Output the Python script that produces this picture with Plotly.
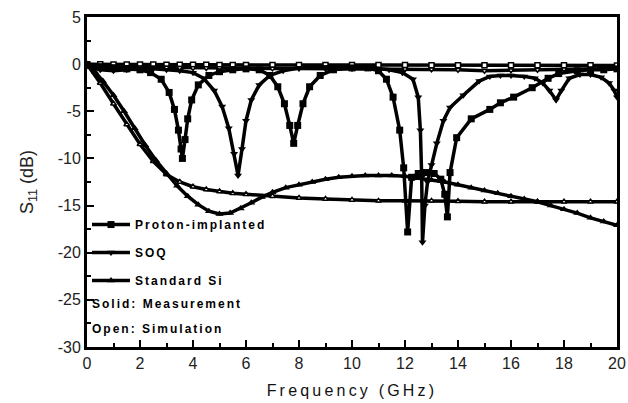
import plotly.graph_objects as go

# ---- data ----
pi_f = [0.0, 0.5, 1.0, 1.5, 2.0, 2.4, 2.8, 3.1, 3.3, 3.45, 3.55, 3.6, 3.7, 3.8, 3.95, 4.2, 4.6, 5.0, 5.5,
        6.0, 6.5, 6.9, 7.2, 7.45, 7.65, 7.8, 7.95, 8.15, 8.4, 8.8, 9.3, 10.0, 10.6, 11.0, 11.3, 11.55,
        11.8, 11.95, 12.1, 12.25, 12.5, 12.8, 13.1, 13.35, 13.5, 13.6, 13.7, 13.95, 14.5, 15.2, 15.6,
        16.1, 16.8, 17.4, 17.8, 18.5, 19.0, 19.5, 20.0]
pi_meas = [-0.1, -0.3, -0.4, -0.5, -0.6, -0.9, -1.6, -3.0, -4.8, -7.0, -9.0, -10.0, -8.0, -5.8, -3.8, -2.2,
           -1.2, -0.8, -0.6, -0.5, -0.6, -1.2, -2.4, -4.2, -6.5, -8.4, -6.5, -4.2, -2.4, -1.2, -0.6, -0.4,
           -0.4, -0.7, -1.6, -3.5, -7.0, -11.0, -17.8, -12.0, -11.6, -11.5, -11.6, -12.2, -13.8, -16.2,
           -11.5, -7.8, -5.8, -4.8, -4.1, -3.5, -2.5, -1.5, -1.0, -0.7, -0.6, -0.6, -0.5]

soq_f = [0.0, 0.5, 1.0, 1.5, 2.0, 2.5, 3.0, 3.5, 4.0, 4.4, 4.8, 5.1, 5.35, 5.55, 5.7, 5.85, 6.0, 6.2, 6.5,
         6.9, 7.4, 8.0, 9.0, 10.0, 10.8, 11.4, 11.9, 12.3, 12.5, 12.58, 12.63, 12.66, 12.75, 12.85, 13.0,
         13.2, 13.45, 13.7, 14.2, 14.8, 15.2, 15.6, 16.0, 16.5, 16.9, 17.2, 17.45, 17.7, 17.9, 18.2, 18.6,
         19.0, 19.4, 19.7, 19.9, 20.0]
soq_meas = [-0.2, -0.6, -0.7, -0.6, -0.5, -0.5, -0.6, -0.7, -0.9, -1.5, -2.8, -4.5, -6.8, -9.5, -11.8, -9.0,
            -6.0, -3.8, -2.2, -1.2, -0.7, -0.4, -0.3, -0.3, -0.4, -0.6, -0.9, -1.6, -3.5, -7.0, -12.0,
            -18.9, -15.0, -12.5, -10.7, -8.4, -6.0, -4.6, -3.3, -1.8, -1.3, -1.2, -1.2, -1.3, -1.5, -2.0,
            -2.8, -3.8, -2.8, -1.5, -1.1, -1.1, -1.4, -2.0, -2.8, -3.5]

sim_f = [0.0, 0.5, 1.0, 1.5, 2.0, 2.5, 3.0, 3.5, 4.0, 4.5, 5.0, 5.5, 6.0, 7.0, 8.0, 9.0, 10.0, 11.0, 12.0,
         13.0, 14.0, 15.0, 16.0, 17.0, 18.0, 19.0, 20.0]
pi_sim = [0.0, -0.02, -0.03, -0.04, -0.05, -0.05, -0.06, -0.06, -0.07, -0.07, -0.08, -0.08, -0.08, -0.09,
          -0.09, -0.1, -0.1, -0.1, -0.1, -0.11, -0.11, -0.12, -0.12, -0.12, -0.13, -0.13, -0.14]
soq_sim = [0.0, -0.15, -0.25, -0.3, -0.32, -0.35, -0.36, -0.38, -0.4, -0.4, -0.42, -0.42, -0.43, -0.45,
           -0.45, -0.46, -0.47, -0.5, -0.52, -0.55, -0.6, -0.7, -0.65, -0.6, -0.55, -0.5, -0.45]
si_sim = [0.0, -2.0, -4.2, -6.4, -8.5, -10.3, -11.7, -12.5, -13.0, -13.3, -13.5, -13.7, -13.8, -14.0,
          -14.2, -14.3, -14.4, -14.5, -14.5, -14.5, -14.55, -14.6, -14.6, -14.6, -14.6, -14.6, -14.6]

si_f = [0.0, 0.3, 0.6, 1.0, 1.4, 1.8, 2.2, 2.6, 3.0, 3.4, 3.8, 4.2, 4.6, 5.0, 5.4, 5.8, 6.2, 6.6, 7.0, 7.5,
        8.0, 8.5, 9.0, 9.5, 10.0, 10.5, 11.0, 11.5, 12.0, 12.5, 13.0, 13.5, 14.0, 14.5, 15.0, 15.5, 16.0,
        16.5, 17.0, 17.5, 18.0, 18.5, 19.0, 19.5, 20.0]
si_meas = [0.0, -0.8, -1.8, -3.3, -5.0, -6.8, -8.6, -10.2, -11.6, -12.9, -14.0, -14.9, -15.6, -15.9, -15.8,
           -15.3, -14.7, -14.1, -13.6, -13.1, -12.8, -12.5, -12.2, -12.0, -11.9, -11.8, -11.8, -11.8, -11.9,
           -12.1, -12.3, -12.5, -12.8, -13.1, -13.4, -13.7, -14.0, -14.3, -14.6, -15.0, -15.4, -15.8, -16.3,
           -16.7, -17.1]

x_ticks = [0, 2, 4, 6, 8, 10, 12, 14, 16, 18, 20]
y_ticks = [5, 0, -5, -10, -15, -20, -25, -30]

names = ["Proton-implanted", "SOQ", "Standard Si"]
notes = ["Solid: Measurement", "Open: Simulation"]


def spaced(t, px):
    return '<span style="letter-spacing:%spx">%s</span>' % (px, t)


fig = go.Figure()

# simulations (open markers)
for y, sym in [(pi_sim, "square"), (soq_sim, "triangle-down"), (si_sim, "triangle-up")]:
    fig.add_trace(go.Scatter(x=sim_f, y=y, mode="lines+markers", showlegend=False,
                             line=dict(color="black", width=3.5),
                             marker=dict(symbol=sym, size=5, color="white",
                                         line=dict(color="black", width=1.5))))

# measurements (solid markers)
for f, y, sym, nm in [(pi_f, pi_meas, "square", names[0]), (soq_f, soq_meas, "triangle-down", names[1]),
                      (si_f, si_meas, "triangle-up", names[2])]:
    fig.add_trace(go.Scatter(x=f, y=y, mode="lines+markers", name="<b>" + spaced(nm, 2.0) + "</b>",
                             legendgroup=nm,
                             line=dict(color="black", width=3.5),
                             marker=dict(symbol=sym, size=7, color="black")))

for i, t in enumerate(notes):
    fig.add_annotation(xref="paper", yref="paper", x=0.005, y=0.13 - i * 0.076,
                       xanchor="left", yanchor="middle", showarrow=False,
                       text="<b>" + spaced(t, 2.0) + "</b>",
                       font=dict(family="Liberation Sans, Arial", size=12, color="black"))

axis_common = dict(showline=True, linewidth=3, linecolor="black", mirror=True,
                   ticks="inside", ticklen=7, tickwidth=2, tickcolor="black",
                   showgrid=False, zeroline=False, automargin=False,
                   tickfont=dict(family="Liberation Sans, Arial", size=16, color="#222"))

fig.update_xaxes(range=[0, 20], tickvals=x_ticks, ticktext=[str(v) for v in x_ticks],
                 minor=dict(ticks="inside", ticklen=4, tickwidth=2, tickcolor="black", dtick=1),
                 title=dict(text=spaced("Frequency (GHz)", 3.2), standoff=14,
                            font=dict(family="Liberation Sans, Arial", size=16, color="#111")),
                 **axis_common)
fig.update_yaxes(range=[-30, 5], tickvals=y_ticks, ticktext=[str(v) for v in y_ticks],
                 minor=dict(ticks="inside", ticklen=4, tickwidth=2, tickcolor="black", dtick=2.5),
                 title=dict(text="S<sub>11</sub> (dB)", standoff=20,
                            font=dict(family="Liberation Sans, Arial", size=18, color="#222")),
                 **axis_common)

fig.update_layout(
    width=628, height=403,
    margin=dict(l=87, r=11, t=17, b=56),
    paper_bgcolor="white", plot_bgcolor="white",
    legend=dict(x=0.0, y=0.415, xanchor="left", yanchor="top",
                bgcolor="rgba(0,0,0,0)", tracegroupgap=9,
                font=dict(family="Liberation Sans, Arial", size=12, color="black"),
                itemwidth=38),
)

fig.write_html("out.html")
